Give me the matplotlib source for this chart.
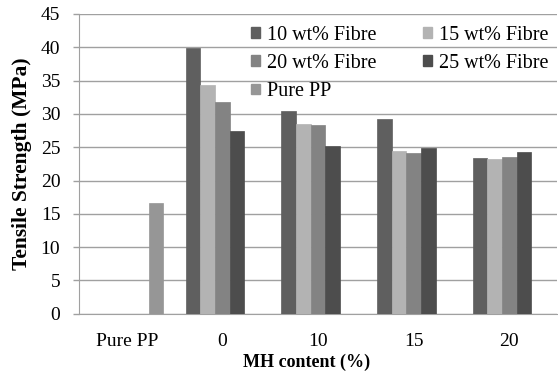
import numpy as np
import matplotlib
matplotlib.use("Agg")
import matplotlib.pyplot as plt
from matplotlib.patches import Patch

categories = ["Pure PP", "0", "10", "15", "20"]
series_names = ["10 wt% Fibre", "15 wt% Fibre", "20 wt% Fibre", "25 wt% Fibre", "Pure PP"]
fibre10 = [np.nan, 39.85, 30.5, 29.3, 23.45]
fibre15 = [np.nan, 34.3, 28.45, 24.5, 23.2]
fibre20 = [np.nan, 31.8, 28.4, 24.15, 23.55]
fibre25 = [np.nan, 27.5, 25.2, 24.9, 24.25]
pure_pp = [16.6, np.nan, np.nan, np.nan, np.nan]
yticks = [0, 5, 10, 15, 20, 25, 30, 35, 40, 45]

colors = ["#5f5f5f", "#b3b3b3", "#838383", "#4d4d4d", "#969696"]
all_series = [fibre10, fibre15, fibre20, fibre25, pure_pp]

plt.rcParams['font.family'] = ['Liberation Serif', 'DejaVu Serif']

fig = plt.figure(figsize=(5.58, 3.74), dpi=100)
ax = fig.add_axes([79/558, (374-313.7)/374, (557-79)/558, (313.7-14)/374])

x = np.arange(len(categories))
w = 0.153
handles = []
for i, (vals, name, c) in enumerate(zip(all_series, series_names, colors)):
    ax.bar(x + (i - 2) * w, vals, width=w, color=c, edgecolor=c, linewidth=0.5, zorder=3)
    handles.append(Patch(facecolor=c, edgecolor=c, label=name))

ax.set_xlim(-0.5, len(categories) - 0.5)
ax.set_ylim(0, 45)
ax.set_yticks(yticks)
ax.set_xticks(x)
ax.set_xticklabels(categories, fontsize=14)
ax.tick_params(axis='y', labelsize=14, length=4.5, color='#a0a0a0', width=1, pad=9)
ax.tick_params(axis='x', length=0, pad=14)
ax.yaxis.grid(True, color='#a0a0a0', linewidth=1, zorder=0)
ax.set_axisbelow(True)
for s in ['top', 'right']:
    ax.spines[s].set_visible(False)
ax.spines['left'].set_color('#a0a0a0')
ax.spines['bottom'].set_color('#a0a0a0')

fig.text(22/558, 1 - 163.5/374, "Tensile Strength (MPa)", fontsize=15.5, fontweight='bold',
         ha='center', va='center', rotation=90)
fig.text(307/558, 1 - 362/374, "MH content (%)", fontsize=13, fontweight='bold',
         ha='center', va='center')

order = [0, 2, 4, 1, 3]
leg = ax.legend([handles[i] for i in order], [series_names[i] for i in order],
                ncol=2, frameon=False, fontsize=14.5, loc='upper left',
                bbox_to_anchor=(251/558, 1 - 26/374), bbox_transform=fig.transFigure,
                handlelength=0.45, handleheight=0.45, handletextpad=0.35,
                columnspacing=2.3, labelspacing=0.45, borderaxespad=0, borderpad=0)

fig.savefig("out.png", dpi=100)
